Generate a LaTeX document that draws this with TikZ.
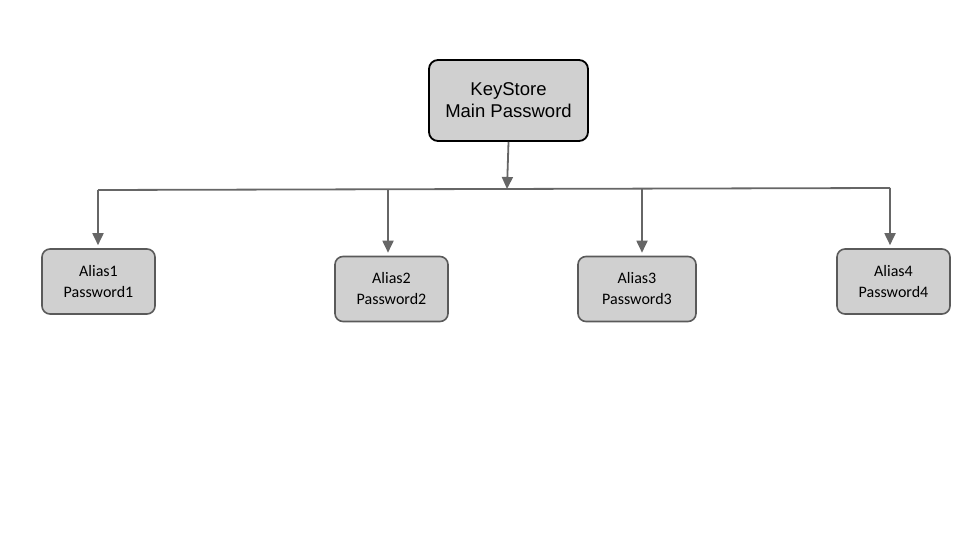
\documentclass[tikz,border=0pt]{standalone}
\usepackage{fontspec}
\setmainfont{Liberation Sans}
\newfontfamily\carl{Carlito}
\usetikzlibrary{arrows.meta}
\definecolor{boxfill}{HTML}{D0D0D0}
\definecolor{linegray}{HTML}{666666}
\definecolor{boxedge}{HTML}{5A5A5A}
\tikzset{
  mainbox/.style={draw=black, line width=1.8pt, fill=boxfill, rounded corners=9pt,
    minimum width=159pt, minimum height=81pt, align=center, inner sep=0pt,
    font=\fontsize{18.5}{22}\selectfont},
  aliasbox/.style={draw=boxedge, line width=1.6pt, fill=boxfill, rounded corners=8pt,
    minimum height=65pt, align=center, inner sep=0pt,
    font=\carl\fontsize{16}{21}\selectfont},
  conn/.style={draw=linegray, line width=1.8pt},
  arr/.style={conn, -{Triangle[width=11pt,length=12pt]}, shorten >=3pt}
}
\begin{document}
\begin{tikzpicture}[x=1pt,y=-1pt]
\useasboundingbox (0,0) rectangle (960,540);
\node[mainbox] (main) at (508.5,100.5) {KeyStore\\Main Password};
\node[aliasbox, minimum width=113pt] (a1) at (98.5,281.5) {Alias1\\Password1};
\node[aliasbox, minimum width=113pt] (a2) at (391.5,289) {Alias2\\Password2};
\node[aliasbox, minimum width=118pt] (a3) at (637,289) {Alias3\\Password3};
\node[aliasbox, minimum width=113pt] (a4) at (893.5,281.5) {Alias4\\Password4};
\coordinate (bl) at (98,190);
\coordinate (br) at (890,188);
\coordinate (bm) at (507,189);
\coordinate (b2) at (388,190);
\coordinate (b3) at (642,189);
\draw[conn] (bl) -- (br);
\draw[arr, shorten >=0pt] (main.south) -- (bm);
\draw[arr] (bl) -- (bl |- a1.north);
\draw[arr] (b2) -- (b2 |- a2.north);
\draw[arr] (b3) -- (b3 |- a3.north);
\draw[arr] (br) -- (br |- a4.north);
\end{tikzpicture}
\end{document}
